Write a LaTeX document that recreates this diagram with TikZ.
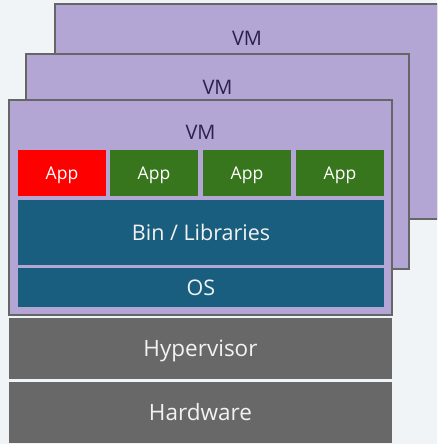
\documentclass[tikz,border=0pt]{standalone}
\usepackage{fontspec}
\setmainfont{Open Sans}
\definecolor{bgcol}{HTML}{F1F4F7}
\definecolor{vmfill}{HTML}{B3A6D4}
\definecolor{vmline}{HTML}{666666}
\definecolor{vmtext}{HTML}{2B2150}
\definecolor{appred}{HTML}{FF0000}
\definecolor{appgreen}{HTML}{38761D}
\definecolor{libblue}{HTML}{195E7E}
\definecolor{hwgray}{HTML}{686868}
\definecolor{lighttext}{HTML}{F2F2F2}
\begin{document}
\begin{tikzpicture}[x=1pt,y=-1pt,
  box/.style={rectangle,inner sep=0pt,outer sep=0pt,anchor=north west,text depth=0pt},
  vmbox/.style={box,fill=vmfill,draw=vmline,line width=1.5pt,minimum width=383pt,minimum height=215pt},
  vmlabel/.style={text=vmtext,font=\fontsize{20}{24}\selectfont,text height=14.3pt,text depth=0pt,inner sep=0pt},
  appbox/.style={box,minimum width=88pt,minimum height=46pt,text=white,font=\fontsize{17.5}{21}\selectfont,text height=12.5pt},
  layer/.style={box,fill=libblue,minimum width=366pt,text=lighttext,font=\fontsize{21.5}{25}\selectfont,text height=15.4pt},
  base/.style={box,fill=hwgray,minimum width=383pt,minimum height=61pt,text=lighttext,font=\fontsize{22.5}{27}\selectfont,text height=16pt}]
  % page background
  \fill[bgcol] (0,0) rectangle (437,444);
  \useasboundingbox (0,0) rectangle (437,444);
  \clip (0,0) rectangle (437,444);
  % stacked virtual machines, back to front
  \node[vmbox] (vm3) at (55,4) {};
  \node[vmlabel] (vm3label) at (247,38) {VM};
  \node[vmbox] (vm2) at (26,54) {};
  \node[vmlabel] (vm2label) at (217.5,87.5) {VM};
  \node[vmbox] (vm1) at (9,100) {};
  \node[vmlabel] (vm1label) at (200.5,132.5) {VM};
  % applications
  \node[appbox,fill=appred] (app1) at (18,150) {App};
  \node[appbox,fill=appgreen] (app2) at (110,150) {App};
  \node[appbox,fill=appgreen] (app3) at (203,150) {App};
  \node[appbox,fill=appgreen] (app4) at (296,150) {App};
  % guest layers
  \node[layer,minimum height=65pt] (libs) at (18,200) {Bin / Libraries};
  \node[layer,minimum height=39pt] (os) at (18,268) {OS};
  % host layers
  \node[base] (hyper) at (9,318) {Hypervisor};
  \node[base] (hw) at (9,382) {Hardware};
\end{tikzpicture}
\end{document}
